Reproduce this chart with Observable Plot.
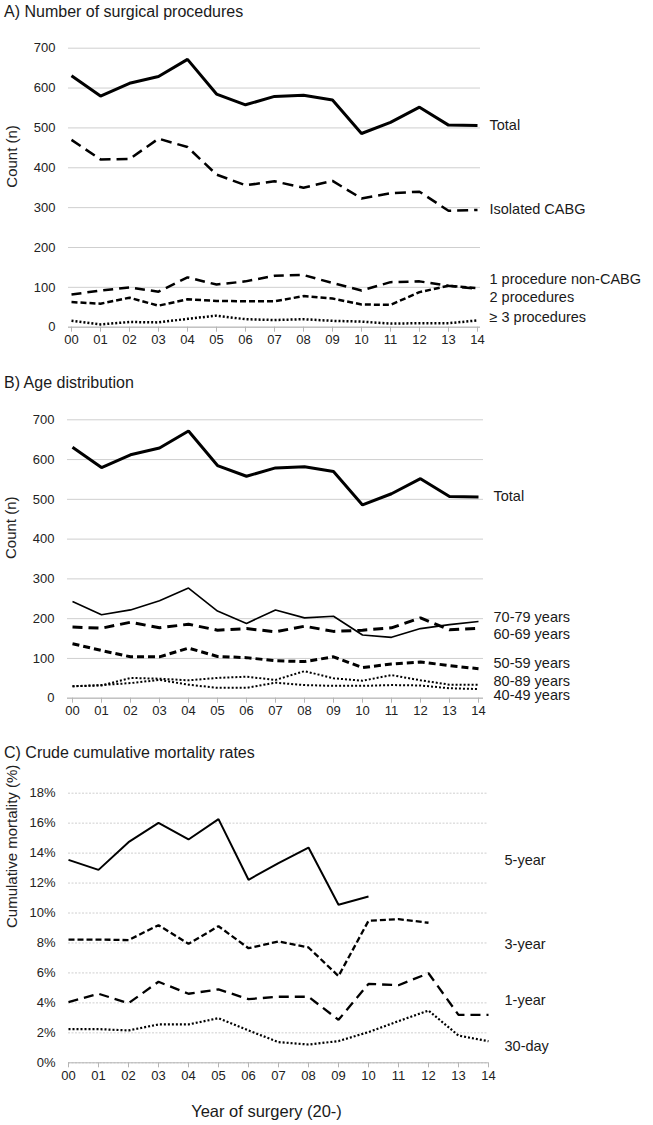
<!DOCTYPE html>
<html><head><meta charset="utf-8">
<script src="https://cdn.jsdelivr.net/npm/d3@7"></script>
<script src="https://cdn.jsdelivr.net/npm/@observablehq/plot@0.6"></script>
<style>
body{margin:0;background:#fff;}
#wrap{position:relative;width:653px;height:1125px;font-family:"Liberation Sans",Arial,sans-serif;color:#1a1a1a;overflow:hidden;}
.title{position:absolute;left:4px;font-size:16px;line-height:18px;white-space:nowrap;}
.panel{position:absolute;left:0;}
</style></head><body>
<div id="wrap">
<div class="title" style="top:3px">A) Number of surgical procedures</div>
<div class="panel" id="pA" style="top:30px"></div>
<div class="title" style="top:374px">B) Age distribution</div>
<div class="panel" id="pB" style="top:400px"></div>
<div class="title" style="top:744px">C) Crude cumulative mortality rates</div>
<div class="panel" id="pC" style="top:770px"></div>
</div>
<script>
const years = ["00","01","02","03","04","05","06","07","08","09","10","11","12","13","14"];

// Panel A: number of surgical procedures
const total = [631,580,612,629,672,585,558,579,582,570,486,514,552,507,506];
const isolatedCABG = [470,421,422,473,452,383,356,366,350,367,323,336,340,292,294];
const oneProcNonCABG = [82,92,100,89,125,107,115,129,131,111,92,113,115,104,96];
const twoProc = [63,59,74,54,70,66,65,65,78,72,57,56,88,104,98];
const threePlusProc = [16,7,13,12,21,29,20,18,20,16,14,9,10,10,17];
const labelsA = ["Total","Isolated CABG","1 procedure non-CABG","2 procedures","\u2265 3 procedures"];
const labelValA = [506,295,120,75,24];

// Panel B: age distribution
const age70 = [243,210,222,245,277,219,188,222,202,206,159,153,175,185,193];
const age60 = [179,176,191,177,186,171,175,167,181,168,171,177,202,172,176];
const age50 = [137,120,104,104,126,105,102,94,92,104,77,86,91,82,74];
const age80 = [30,32,51,49,45,51,54,46,68,50,44,58,45,34,34];
const age40 = [30,33,38,46,34,26,26,39,33,31,31,33,32,25,23];
const labelsB = ["Total","70-79 years","60-69 years","50-59 years","80-89 years","40-49 years"];
const labelValB = [507,203,160,87,43,8];

// Panel C: crude cumulative mortality (%)
const mort5y = [13.55,12.88,14.73,16.02,14.91,16.27,12.22,13.33,14.37,10.55,11.1];
const mort3y = [8.23,8.23,8.19,9.19,7.94,9.12,7.65,8.1,7.7,5.79,9.48,9.59,9.35];
const mort1y = [4.05,4.61,3.98,5.41,4.61,4.9,4.25,4.41,4.41,2.87,5.27,5.18,5.98,3.2,3.2];
const mort30d = [2.25,2.25,2.16,2.56,2.56,2.98,2.16,1.38,1.22,1.45,2.05,2.78,3.49,1.82,1.44];
const labelsC = ["5-year","3-year","1-year","30-day"];
const labelValC = [13.5,7.9,4.15,1.1];

const FONT = "'Liberation Sans', Arial, sans-serif";
const toRows = vals => vals.map((v, i) => ({year: years[i], v}));

function panel(o) {
  const marks = [
    Plot.gridY({ticks: o.ticks, stroke: "#cfcfcf", strokeOpacity: 1, strokeWidth: 1, strokeDasharray: o.gridDash}),
    Plot.axisY({ticks: o.ticks, tickSize: 0, tickPadding: 13, tickFormat: o.tickFormat, label: null, fontSize: 13, fill: "#222"}),
    Plot.ruleY([0], {stroke: "#b5b5b5", strokeWidth: 1}),
    Plot.axisX({tickSize: 5, tickPadding: 3, stroke: "#b5b5b5", fill: "#222", label: null, fontSize: 13}),
    Plot.text([o.yLabel], {frameAnchor: "left", rotate: -90, dx: -56, fontSize: 15, fill: "#222"})
  ];
  for (const s of o.series) {
    marks.push(Plot.line(toRows(s.values), {x: "year", y: "v", stroke: "#000", strokeWidth: s.w,
      strokeDasharray: s.dash, strokeLinecap: "butt", strokeLinejoin: "miter"}));
  }
  marks.push(Plot.text(o.labels.map((t, i) => ({t, v: o.labelVals[i]})), {
    x: () => years[years.length - 1], y: "v", text: "t", textAnchor: "start", dx: o.labelDx,
    fontSize: 14.5, fill: "#1a1a1a"}));
  if (o.xLabel) marks.push(Plot.text([o.xLabel], {frameAnchor: "bottom", dy: o.xLabelDy, dx: -12, fontSize: 16.5, fill: "#1a1a1a"}));
  return Plot.plot({
    width: 653, height: o.height,
    marginTop: o.mt, marginBottom: o.mb, marginLeft: o.ml, marginRight: o.mr,
    style: {fontFamily: FONT, background: "transparent", color: "#222", overflow: "visible"},
    x: {type: "point", domain: years, padding: 0},
    y: {domain: o.domain},
    marks
  });
}

document.getElementById("pA").append(panel({
  height: 330, mt: 17.7, mb: 33.3, ml: 68, mr: 173,
  domain: [0, 700], ticks: 7, yLabel: "Count (n)",
  series: [
    {values: total, w: 3},
    {values: isolatedCABG, w: 2.5, dash: "11,6"},
    {values: oneProcNonCABG, w: 2.5, dash: "10,6"},
    {values: twoProc, w: 2.5, dash: "6,3"},
    {values: threePlusProc, w: 2.5, dash: "2,2"}
  ],
  labels: labelsA, labelVals: labelValA, labelDx: 12
}));

document.getElementById("pB").append(panel({
  height: 330, mt: 19.3, mb: 32.3, ml: 67, mr: 170,
  domain: [0, 700], ticks: 7, yLabel: "Count (n)",
  series: [
    {values: total, w: 3},
    {values: age70, w: 1.6},
    {values: age60, w: 3, dash: "10,6"},
    {values: age50, w: 3, dash: "7,4"},
    {values: age80, w: 2, dash: "2,2"},
    {values: age40, w: 2, dash: "2,2"}
  ],
  labels: labelsB, labelVals: labelValB, labelDx: 15
}));

document.getElementById("pC").append(panel({
  height: 370, mt: 22.7, mb: 77.7, ml: 68, mr: 165,
  domain: [0, 18], ticks: 9, tickFormat: d => d + "%", gridDash: "2,1.5",
  yLabel: "Cumulative mortality (%)",
  series: [
    {values: mort5y, w: 2},
    {values: mort3y, w: 2.3, dash: "6,3"},
    {values: mort1y, w: 2.3, dash: "10,6"},
    {values: mort30d, w: 2.2, dash: "2,2"}
  ],
  labels: labelsC, labelVals: labelValC, labelDx: 16,
  xLabel: "Year of surgery (20-)", xLabelDy: 54
}));
</script>
</body></html>
